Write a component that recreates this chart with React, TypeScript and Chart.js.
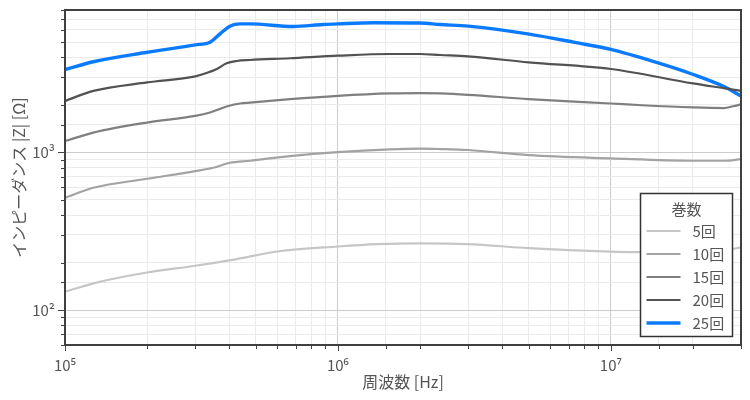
import React, { useEffect, useRef } from "react";
import { Chart, registerables } from "chart.js";

Chart.register(...registerables);

const FONT = "'Noto Sans CJK JP', 'Noto Sans', sans-serif";

const seriesLabels = ["5回", "10回", "15回", "20回", "25回"];
const seriesColors = ["#c6c6c6", "#a3a3a3", "#7f7f7f", "#525252", "#0a7bff"];
const seriesWidths = [2.2, 2.2, 2.2, 2.2, 3.4];
const legendTitle = "巻数";
const xTitle = "周波数 [Hz]";
const yTitle = "インピーダンス |Z| [Ω]";

const xMin = 1e5;
const xMax = 3e7;
const yMin = 60;
const yMax = 8000;

const freq5 = [1e5, 1.34e5, 2e5, 3e5, 4.1e5, 6e5, 1e6, 1.4e6, 2e6, 3e6, 5e6, 1e7, 1.3e7, 2e7, 2.6e7, 3e7];
const imp5 = [131, 151, 173, 191, 208, 235, 253, 262, 265, 262, 247, 235, 233, 231, 238, 250];

const freq10 = [1e5, 1.27e5, 2e5, 3e5, 3.49e5, 4.02e5, 4.76e5, 6.67e5, 1e6, 1.55e6, 2e6, 2.37e6, 3e6, 5e6, 1e7, 2e7, 2.6e7, 3e7];
const imp10 = [515, 596, 680, 760, 799, 859, 885, 947, 1004, 1045, 1056, 1050, 1035, 961, 916, 885, 885, 906];

const freq15 = [1e5, 1.27e5, 2e5, 3e5, 3.4e5, 3.91e5, 4.38e5, 4.76e5, 6.67e5, 1e6, 1.55e6, 2e6, 2.37e6, 3e6, 5e6, 1e7, 1.3e7, 2e7, 2.6e7, 2.8e7, 3e7];
const imp15 = [1180, 1335, 1546, 1703, 1790, 1955, 2041, 2070, 2176, 2284, 2365, 2377, 2365, 2318, 2177, 2042, 1990, 1928, 1909, 1960, 2014];

const freq20 = [1e5, 1.27e5, 2e5, 3e5, 3.3e5, 3.6e5, 3.91e5, 4.26e5, 4.76e5, 6.67e5, 1e6, 1.55e6, 2e6, 2.37e6, 3e6, 5e6, 1e7, 2e7, 2.62e7, 2.8e7, 3e7];
const imp20 = [2120, 2455, 2778, 3035, 3185, 3379, 3673, 3798, 3853, 3954, 4105, 4207, 4207, 4146, 4066, 3725, 3380, 2737, 2546, 2500, 2456];

const freq25 = [1e5, 1.27e5, 2e5, 3e5, 3.4e5, 3.7e5, 4.02e5, 4.38e5, 4.76e5, 6.85e5, 8.83e5, 1e6, 1.35e6, 2e6, 2.37e6, 3e6, 4.96e6, 7.38e6, 1e7, 1.49e7, 1.98e7, 2.62e7, 3e7];
const imp25 = [3350, 3758, 4314, 4804, 5000, 5650, 6318, 6531, 6531, 6285, 6470, 6531, 6637, 6610, 6470, 6322, 5644, 4983, 4498, 3690, 3141, 2596, 2276];

const seriesFreqs = [freq5, freq10, freq15, freq20, freq25];
const seriesImps = [imp5, imp10, imp15, imp20, imp25];

const SUP: Record<string, string> = { "0": "⁰", "1": "¹", "2": "²", "3": "³", "4": "⁴", "5": "⁵", "6": "⁶", "7": "⁷", "8": "⁸", "9": "⁹" };

function isPow10(v: number) {
  const e = Math.log10(v);
  return Math.abs(e - Math.round(e)) < 1e-9;
}
function powLabel(v: number) {
  const e = Math.round(Math.log10(v));
  return "10" + String(e).split("").map((c) => SUP[c] || c).join("");
}

const framePlugin = {
  id: "frameTicks",
  afterDatasetsDraw(chart: any) {
    const { ctx, chartArea } = chart;
    const { left, right, top, bottom } = chartArea;
    ctx.save();
    ctx.strokeStyle = "#444444";
    ctx.lineWidth = 1;
    const xs = chart.scales.x;
    xs.ticks.forEach((t: any) => {
      const px = Math.round(xs.getPixelForValue(t.value)) + 0.5;
      const len = isPow10(t.value) ? 5 : 3;
      ctx.beginPath();
      ctx.moveTo(px, bottom);
      ctx.lineTo(px, bottom + len + 1);
      ctx.stroke();
    });
    const ys = chart.scales.y;
    ys.ticks.forEach((t: any) => {
      const py = Math.round(ys.getPixelForValue(t.value)) + 0.5;
      const len = isPow10(t.value) ? 6 : 3;
      ctx.beginPath();
      ctx.moveTo(left - len - 1, py);
      ctx.lineTo(left, py);
      ctx.stroke();
    });
    ctx.strokeStyle = "#404040";
    ctx.lineWidth = 2;
    ctx.strokeRect(left, top, right - left, bottom - top);
    ctx.restore();
  },
  afterDraw(chart: any) {
    const { ctx, chartArea } = chart;
    const w = 92;
    const h = 143;
    const bx = chartArea.right - 8.5 - w;
    const by = chartArea.bottom - 8.5 - h;
    ctx.save();
    ctx.fillStyle = "#ffffff";
    ctx.fillRect(bx, by, w, h);
    ctx.strokeStyle = "#333333";
    ctx.lineWidth = 1.5;
    ctx.strokeRect(bx, by, w, h);
    ctx.font = `15px ${FONT}`;
    ctx.fillStyle = "#555555";
    ctx.textAlign = "center";
    ctx.textBaseline = "middle";
    ctx.fillText(legendTitle, bx + w / 2, by + 16);
    chart.data.datasets.forEach((ds: any, i: number) => {
      const cy = by + 37.5 + i * 23;
      ctx.strokeStyle = ds.borderColor;
      ctx.lineWidth = ds.borderWidth;
      ctx.beginPath();
      ctx.moveTo(bx + 6, cy);
      ctx.lineTo(bx + 40, cy);
      ctx.stroke();
      ctx.fillStyle = "#555555";
      ctx.textAlign = "left";
      ctx.fillText(ds.label, bx + 52, cy);
    });
    ctx.restore();
  },
};

export default function App() {
  const ref = useRef<HTMLCanvasElement | null>(null);
  useEffect(() => {
    document.body.style.margin = "0";
    const canvas = ref.current;
    if (!canvas) return;
    const datasets = seriesLabels.map((label, i) => ({
      label,
      data: seriesFreqs[i].map((f, j) => ({ x: f, y: seriesImps[i][j] })),
      borderColor: seriesColors[i],
      backgroundColor: seriesColors[i],
      borderWidth: seriesWidths[i],
      pointRadius: 0,
      cubicInterpolationMode: "monotone" as const,
      fill: false,
    }));
    const chart = new Chart(canvas, {
      type: "line",
      data: { datasets },
      options: {
        animation: false,
        responsive: false,
        maintainAspectRatio: false,
        layout: { padding: { top: 10, right: 9, left: 0, bottom: 0 } },
        plugins: { legend: { display: false }, tooltip: { enabled: false } },
        scales: {
          x: {
            type: "logarithmic",
            min: xMin,
            max: xMax,
            border: { display: false },
            grid: {
              drawTicks: false,
              color: (c: any) => (c.tick && isPow10(c.tick.value) ? "#cccccc" : "#ebebeb"),
              lineWidth: 1,
            },
            ticks: {
              autoSkip: false,
              maxRotation: 0,
              padding: 11,
              color: "#555555",
              font: { size: 15, family: FONT },
              callback: (v: any) => (isPow10(Number(v)) ? powLabel(Number(v)) : ""),
            },
            title: {
              display: true,
              text: xTitle,
              color: "#555555",
              font: { size: 16, family: FONT },
              padding: { top: 0, bottom: 8 },
            },
            afterFit: (s: any) => {
              s.height = 55;
              s.paddingLeft = 0;
              s.paddingRight = 0;
            },
          },
          y: {
            type: "logarithmic",
            min: yMin,
            max: yMax,
            border: { display: false },
            grid: {
              drawTicks: false,
              color: (c: any) => (c.tick && isPow10(c.tick.value) ? "#cccccc" : "#ebebeb"),
              lineWidth: 1,
            },
            ticks: {
              autoSkip: false,
              padding: 10,
              color: "#555555",
              font: { size: 15, family: FONT },
              callback: (v: any) => (isPow10(Number(v)) ? powLabel(Number(v)) : ""),
            },
            title: {
              display: true,
              text: yTitle,
              color: "#555555",
              font: { size: 16, family: FONT },
              padding: { top: 9.5, bottom: 0 },
            },
            afterFit: (s: any) => {
              s.width = 65;
              s.paddingTop = 0;
              s.paddingBottom = 0;
            },
          },
        },
      },
      plugins: [framePlugin],
    });
    return () => chart.destroy();
  }, []);
  return (
    <div style={{ width: 750, height: 400, background: "#ffffff" }}>
      <canvas ref={ref} width={750} height={400} style={{ display: "block", width: 750, height: 400 }} />
    </div>
  );
}
